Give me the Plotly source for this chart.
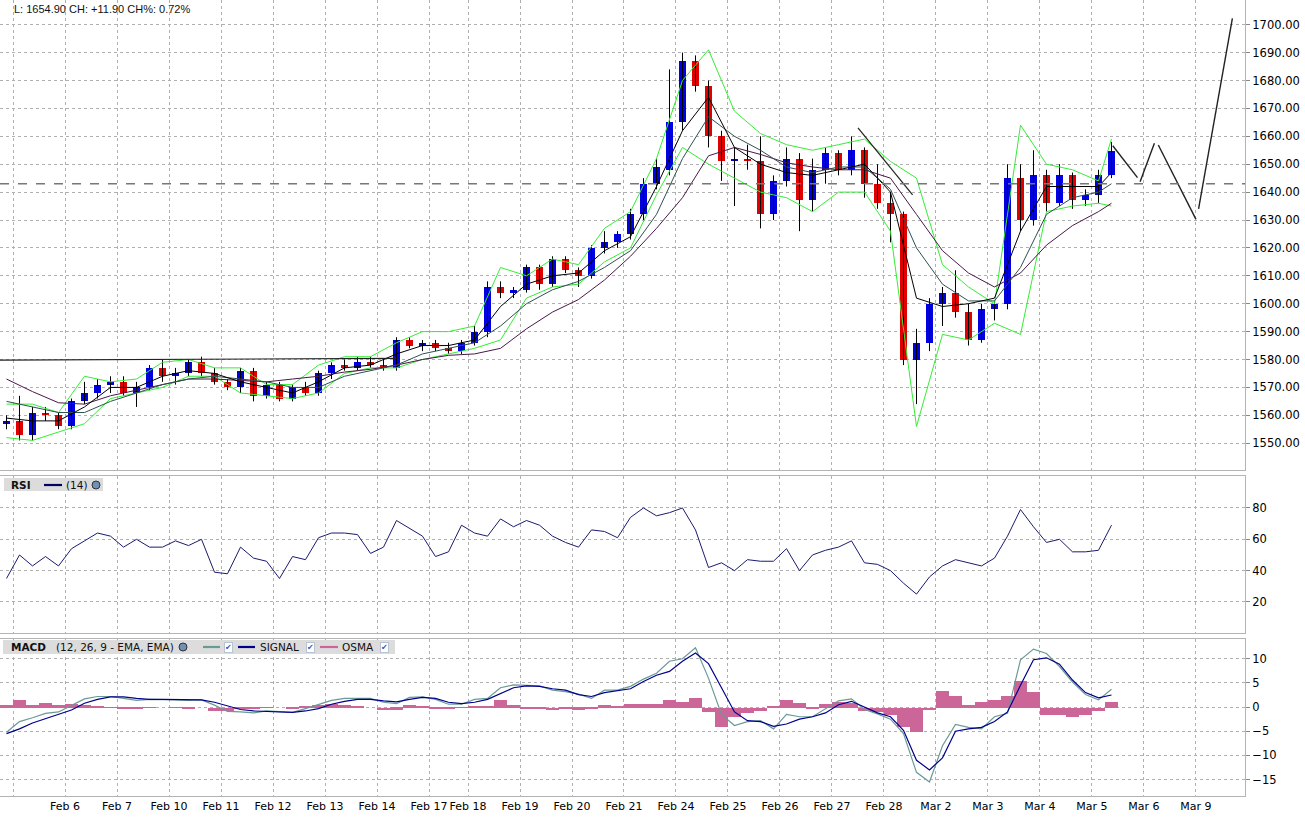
import plotly.graph_objects as go

# sessions on the time axis (bars per session on the chart, Feb 17 is a short one)
sessions = ["Feb 5", "Feb 6", "Feb 7", "Feb 10", "Feb 11", "Feb 12", "Feb 13", "Feb 14",
            "Feb 17", "Feb 18", "Feb 19", "Feb 20", "Feb 21", "Feb 24", "Feb 25", "Feb 26",
            "Feb 27", "Feb 28", "Mar 2", "Mar 3", "Mar 4", "Mar 5", "Mar 6", "Mar 9"]
session_bars = [4, 4, 4, 4, 4, 4, 4, 4, 3, 4, 4, 4, 4, 4, 4, 4, 4, 4, 4, 4, 4, 4, 4, 4]
lead_bars = 1  # tail of Feb 4 at the left edge

# price bars
opens = [1557,
         1558, 1553, 1561, 1560, 1556, 1565, 1568, 1571, 1572, 1568, 1570, 1577,
         1574, 1575, 1579, 1575, 1572, 1570, 1576, 1567, 1571, 1566, 1570, 1568,
         1575, 1578, 1577, 1579, 1578, 1577, 1587, 1585, 1586, 1584, 1583,
         1586, 1590, 1606, 1604, 1605, 1613, 1607, 1616, 1612, 1610, 1620, 1622,
         1625, 1632, 1643, 1648, 1665, 1687, 1678, 1660, 1651, 1652, 1651, 1632,
         1644, 1652, 1637, 1648, 1654, 1648, 1655, 1643, 1636, 1632, 1580, 1586,
         1600, 1604, 1597, 1587, 1598, 1600, 1645, 1630, 1646, 1636, 1646, 1637,
         1639, 1646]
highs = [1560,
         1567, 1563, 1563, 1561, 1566, 1572, 1573, 1574, 1574, 1572, 1578, 1580,
         1577, 1580, 1581, 1577, 1573, 1577, 1577, 1572, 1572, 1571, 1572, 1576,
         1579, 1580, 1581, 1581, 1580, 1588, 1588, 1587, 1587, 1586, 1587,
         1592, 1608, 1608, 1606, 1614, 1614, 1617, 1617, 1613, 1621, 1626, 1626,
         1634, 1645, 1652, 1684, 1690, 1689, 1680, 1662, 1656, 1657, 1660, 1646,
         1656, 1654, 1652, 1656, 1655, 1660, 1656, 1650, 1640, 1633, 1591, 1602,
         1606, 1612, 1600, 1600, 1601, 1650, 1650, 1655, 1648, 1650, 1647, 1641,
         1648, 1658]
lows = [1555,
        1551, 1551, 1558, 1555, 1555, 1564, 1566, 1568, 1567, 1563, 1569, 1572,
        1571, 1574, 1574, 1571, 1569, 1568, 1565, 1566, 1565, 1565, 1567, 1567,
        1573, 1576, 1576, 1577, 1576, 1576, 1584, 1583, 1583, 1582, 1582,
        1585, 1588, 1602, 1602, 1604, 1605, 1606, 1611, 1606, 1609, 1618, 1620,
        1623, 1630, 1641, 1646, 1662, 1676, 1656, 1644, 1635, 1648, 1627, 1630,
        1642, 1626, 1633, 1643, 1646, 1646, 1638, 1634, 1622, 1578, 1564, 1583,
        1592, 1595, 1585, 1586, 1594, 1598, 1626, 1628, 1633, 1635, 1634, 1635,
        1636, 1645]
closes = [1558,
          1553, 1561, 1560, 1556, 1565, 1568, 1571, 1572, 1568, 1570, 1577, 1574,
          1575, 1579, 1575, 1572, 1570, 1576, 1567, 1571, 1566, 1570, 1568, 1575,
          1578, 1577, 1579, 1578, 1577, 1587, 1585, 1586, 1584, 1583, 1586,
          1590, 1606, 1604, 1605, 1613, 1607, 1616, 1612, 1610, 1620, 1622, 1625,
          1632, 1643, 1649, 1665, 1687, 1678, 1660, 1651, 1652, 1651, 1632, 1644,
          1652, 1637, 1648, 1654, 1648, 1655, 1643, 1636, 1632, 1580, 1586, 1600,
          1604, 1597, 1587, 1598, 1600, 1645, 1630, 1646, 1636, 1646, 1637, 1639,
          1646, 1654.9]

# overlays, read every second bar
ma_fast = [1559, 1558, 1558, 1563, 1570, 1570, 1574, 1576, 1575, 1572, 1570, 1568, 1572, 1577,
           1578, 1582, 1585, 1585, 1587, 1599, 1607, 1610, 1611, 1619, 1624, 1642, 1662, 1674,
           1656, 1650, 1647, 1646, 1648, 1650, 1640, 1602, 1599, 1600, 1602, 1626, 1642, 1642,
           1642, 1647]
ma_mid = [1565, 1563, 1561, 1561, 1565, 1568, 1571, 1573, 1574, 1573, 1572, 1570, 1570, 1574,
          1576, 1578, 1582, 1584, 1586, 1592, 1600, 1605, 1608, 1613, 1619, 1632, 1652, 1667,
          1660, 1655, 1649, 1647, 1649, 1649, 1641, 1620, 1607, 1601, 1601, 1613, 1632, 1638,
          1640, 1643]
ma_slow = [1573, 1568.5, 1564.5, 1564, 1567, 1569, 1571, 1573, 1573, 1572.5, 1572, 1573, 1574,
           1575.5, 1576.5, 1578, 1580, 1581.5, 1582, 1584, 1591, 1597, 1601.5, 1608.5, 1617,
           1627, 1638, 1653, 1656, 1653.5, 1650.5, 1649, 1648, 1648, 1645, 1632, 1619, 1611,
           1606, 1611, 1621, 1628, 1633, 1636]
band_upper = [1564, 1564, 1561, 1574, 1572, 1573, 1579, 1580, 1577, 1577, 1571, 1571, 1578, 1581,
              1581, 1586, 1590, 1590, 1592, 1613, 1610, 1616, 1614, 1627, 1633, 1652, 1680, 1691,
              1669, 1661, 1657, 1655, 1657, 1659, 1651, 1645, 1614, 1606, 1600, 1664, 1650, 1648,
              1644, 1659]
band_lower = [1552, 1551, 1554, 1557, 1566, 1568, 1570, 1574, 1574, 1568, 1567, 1566, 1568, 1575,
              1577, 1577, 1580, 1582, 1584, 1587, 1602, 1606, 1607, 1615, 1620, 1639, 1656, 1650,
              1645, 1640, 1638, 1633, 1640, 1640, 1626, 1556, 1589, 1587, 1593, 1589, 1633, 1635,
              1636, 1635]

# drawn lines
support_x = [-0.5, 30]
support_y = [1579.8, 1580.4]
trend_x = [65.5, 69.7]
trend_y = [1663, 1639]
zigzag_x = [85.1, 87.0, None, 87.2, 88.3, None, 88.6, 91.5, None, 91.7, 94.3]
zigzag_y = [1656.6, 1645.2, None, 1643.7, 1657.5, None, 1656.9, 1630.2, None, 1634.0, 1702.3]
prev_close = 1643.0
last_price = 1654.90
change = 11.90
change_pct = 0.72

# RSI (14)
rsi = [35, 50, 43, 49, 43, 54, 59, 64, 62, 55,
       60, 55, 55, 59, 56, 60, 39, 38, 55, 48,
       46, 35, 49, 47, 61, 64, 64, 63, 51, 55,
       72, 67, 62, 49, 52, 69, 64, 62, 73, 68,
       72, 69, 62, 58, 55, 66, 65, 61, 74, 80,
       75, 77, 80, 66, 42, 45, 40, 47, 46, 46,
       54, 40, 50, 53, 55, 59, 45, 44, 40, 32,
       25, 36, 43, 47, 45, 43, 48, 62, 79, 68,
       58, 60, 52, 52, 53, 69]

# MACD (12, 26, 9)
macd = [-5.2, -3.0, -2.2, -1.3, -1.0, 0.3, 1.7, 2.2, 2.2, 1.8,
        1.4, 1.6, 1.6, 1.5, 1.4, 1.5, 0.4, -0.9, -1.0, -1.2,
        -0.8, -0.9, -1.1, -0.3, 0.6, 1.4, 1.8, 1.8, 1.8, 1.0,
        0.7, 2.0, 2.1, 1.6, 0.6, 0.6, 1.6, 1.8, 4.0, 4.6,
        4.5, 4.4, 3.5, 3.2, 2.7, 1.8, 3.5, 3.5, 4.3, 5.8,
        7.0, 9.5, 10.0, 12.3, 6.0, -1.5, -3.8, -3.0, -2.8, -4.5,
        -1.5, -2.0, -2.0, -0.3, 1.3, 1.7, -0.5, -1.4, -2.5, -5.5,
        -13.5, -15.5, -8.0, -3.6, -4.2, -4.5, -2.0, -1.3, 9.8, 12.0,
        11.1, 8.4, 5.2, 2.6, 1.5, 3.7]
signal = [-5.5, -4.5, -3.3, -2.4, -1.4, -0.6, 0.8, 1.6, 2.1, 2.1,
          1.8, 1.6, 1.6, 1.6, 1.6, 1.5, 1.0, 0.2, -0.5, -0.8,
          -0.9, -1.0, -1.1, -0.8, -0.3, 0.6, 1.2, 1.6, 1.6, 1.3,
          1.1, 1.6, 2.0, 1.8, 1.0, 0.7, 1.0, 1.6, 2.8, 4.0,
          4.4, 4.3, 3.8, 3.5, 2.6, 2.2, 3.0, 3.4, 3.8, 5.3,
          6.6, 7.4, 9.5, 11.2, 9.0, 4.0, -1.0, -2.8, -3.0, -4.0,
          -3.5, -2.5, -2.0, -1.2, 0.5, 1.2, 0.0, -1.2, -2.0, -4.8,
          -11.0, -13.0, -10.5, -5.0, -4.5, -4.2, -3.0, -1.0, 4.5, 9.8,
          10.2, 8.9, 5.6, 3.0, 1.9, 2.5]
osma = [0.6, 1.5, 0.6, 0.9, 0.5, 0.8, 0.5, 0.2, 0.1, -0.3,
        -0.2, 0.1, 0.0, 0.1, -0.1, 0.0, -0.6, -0.8, -0.3, -0.2,
        0.1, 0.0, -0.1, 0.4, 0.5, 0.8, 0.6, 0.2, 0.0, -0.5,
        -0.4, 0.6, 0.3, -0.2, -0.3, 0.1, 0.4, 0.4, 1.5, 0.5,
        -0.2, -0.2, -0.5, -0.3, -0.4, -0.2, 0.5, 0.3, 0.8, 0.8,
        0.8, 1.5, 1.2, 2.0, -1.0, -4.0, -2.0, -1.2, -0.8, 0.3,
        1.5, 1.0, -0.3, 0.8, 1.2, 1.0, -0.8, -1.0, -1.5, -4.0,
        -5.0, -0.5, 3.5, 2.5, 0.5, 1.2, 1.5, 2.5, 5.5, 3.2,
        -1.5, -1.6, -1.9, -1.6, -0.6, 1.2]

# x positions: one unit per bar, overlays on every second bar
bar_x = list(range(len(closes)))
line_x = bar_x[::2] + [bar_x[-1]]

tick_pos = []
start = lead_bars
for n in session_bars:
    tick_pos.append(start - 0.5)
    start += n
tick_text = [""] + sessions[1:]

W, H = 1305, 821
PLOT_W, PLOT_H = 1245, 796


def py(y_px):
    # pixel row -> paper fraction
    return (PLOT_H - y_px) / PLOT_H


def px(x_px):
    return x_px / PLOT_W


fig = go.Figure()

# candles: wicks then bodies
wick_x, wick_y = [], []
for i in bar_x:
    wick_x += [i, i, None]
    wick_y += [lows[i], highs[i], None]
fig.add_trace(go.Scatter(x=wick_x, y=wick_y, mode="lines",
                         line=dict(color="black", width=1), hoverinfo="skip"))

for up, color in [(True, "#0000e0"), (False, "#e00000")]:
    idx = [i for i in bar_x if (closes[i] >= opens[i]) == up]
    fig.add_trace(go.Bar(
        x=idx,
        y=[max(abs(closes[i] - opens[i]), 0.4) for i in idx],
        base=[min(opens[i], closes[i]) for i in idx],
        width=0.58, marker=dict(color=color, line=dict(width=0)),
    ))

# bands and moving averages
for series, color in [(band_upper, "#33ee33"), (band_lower, "#33ee33"),
                      (ma_slow, "#4a1848"), (ma_mid, "#2f5050"), (ma_fast, "#000000")]:
    fig.add_trace(go.Scatter(x=line_x, y=series, mode="lines",
                             line=dict(color=color, width=1)))

# drawn lines
fig.add_trace(go.Scatter(x=support_x, y=support_y, mode="lines",
                         line=dict(color="#222222", width=1.2)))
fig.add_trace(go.Scatter(x=trend_x, y=trend_y, mode="lines",
                         line=dict(color="#222222", width=1.2)))
fig.add_trace(go.Scatter(x=zigzag_x, y=zigzag_y, mode="lines",
                         line=dict(color="#222222", width=1.4)))

# RSI
fig.add_trace(go.Scatter(x=bar_x, y=rsi, mode="lines", xaxis="x2", yaxis="y2",
                         line=dict(color="#1a1a70", width=1)))

# MACD
fig.add_trace(go.Bar(x=bar_x, y=osma, width=1.0, xaxis="x3", yaxis="y3",
                     marker=dict(color="#cc6699", line=dict(width=0))))
fig.add_trace(go.Scatter(x=bar_x, y=macd, mode="lines", xaxis="x3", yaxis="y3",
                         line=dict(color="#6a9a96", width=1.2)))
fig.add_trace(go.Scatter(x=bar_x, y=signal, mode="lines", xaxis="x3", yaxis="y3",
                         line=dict(color="#00008b", width=1.2)))

grid = dict(showgrid=True, gridcolor="#b0b0b0", griddash="dot", gridwidth=1,
            showline=True, mirror=True, linecolor="#b4b4b4", linewidth=1, zeroline=False)
x_common = dict(range=[-0.5, 95.27], tickvals=tick_pos, ticktext=tick_text,
                tickangle=0, ticks="", tickfont=dict(size=11), **grid)
y_common = dict(side="right", ticks="outside", ticklen=4, tickcolor="#888888", **grid)

fig.update_layout(
    width=W, height=H,
    margin=dict(l=0, r=W - PLOT_W, t=0, b=H - PLOT_H),
    paper_bgcolor="white", plot_bgcolor="white",
    font=dict(family="DejaVu Sans", size=11.5, color="black"),
    showlegend=False, barmode="overlay", bargap=0,
    xaxis=dict(domain=[0, 1], anchor="y", showticklabels=False, **x_common),
    xaxis2=dict(domain=[0, 1], anchor="y2", matches="x", showticklabels=False, **x_common),
    xaxis3=dict(domain=[0, 1], anchor="y3", matches="x", showticklabels=True, **x_common),
    yaxis=dict(domain=[py(470), py(0)], range=[1540.4, 1708.85],
               tickvals=list(range(1550, 1701, 10)), tickformat=".2f", **y_common),
    yaxis2=dict(domain=[py(633), py(476)], range=[0.2, 100.4],
                tickvals=[20, 40, 60, 80], **y_common),
    yaxis3=dict(domain=[py(796), py(638.5)], range=[-18.4, 14.2],
                tickvals=[-15, -10, -5, 0, 5, 10], **y_common),
)

# previous close reference
fig.add_shape(type="line", xref="x domain", yref="y", x0=0, x1=1, y0=prev_close, y1=prev_close,
              line=dict(color="#777777", width=1.3, dash="dash"))

# header text of the price panel
fig.add_annotation(xref="paper", yref="paper", x=px(12), y=py(9), xanchor="left", yanchor="middle",
                   text=f"L: {last_price:.2f} CH: {change:+.2f} CH%: {change_pct:.2f}%",
                   showarrow=False, font=dict(family="Liberation Sans", size=11, color="#111111"))


def header_box(x0, x1, y0, y1):
    fig.add_shape(type="rect", xref="paper", yref="paper", x0=px(x0), x1=px(x1),
                  y0=py(y1), y1=py(y0), fillcolor="#dcdcdc", line=dict(width=0), layer="above")


def label(x, y, text, bold=False, size=10.5):
    fig.add_annotation(xref="paper", yref="paper", x=px(x), y=py(y), xanchor="left",
                       yanchor="middle", showarrow=False,
                       text=f"<b>{text}</b>" if bold else text,
                       font=dict(family="DejaVu Sans", size=size, color="#111111"))


def legend_line(x0, x1, y, color):
    fig.add_shape(type="line", xref="paper", yref="paper", x0=px(x0), x1=px(x1),
                  y0=py(y), y1=py(y), line=dict(color=color, width=2.2), layer="above")


def globe(x, y):
    fig.add_shape(type="circle", xref="paper", yref="paper", x0=px(x - 4), x1=px(x + 4),
                  y0=py(y + 4), y1=py(y - 4), fillcolor="#7090b8",
                  line=dict(color="#333333", width=1), layer="above")


def checkbox(x, y):
    fig.add_annotation(xref="paper", yref="paper", x=px(x), y=py(y), xanchor="center",
                       yanchor="middle", showarrow=False, text="✔",
                       font=dict(family="DejaVu Sans", size=8, color="#1a5fd0"),
                       bgcolor="white", bordercolor="#b8c4d0", borderwidth=1, borderpad=0)


# RSI header
header_box(4, 103, 478, 491)
label(9, 485, "RSI", bold=True)
legend_line(44, 62, 485, "#000066")
label(64, 485, "(14)")
globe(96, 485)

# MACD header
header_box(3, 395, 640, 654)
label(9, 647, "MACD", bold=True)
label(54, 647, "(12, 26, 9 - EMA, EMA)")
globe(183, 647)
legend_line(203, 220, 647, "#6a9a96")
checkbox(228, 647)
legend_line(238, 255, 647, "#00008b")
label(258, 647, "SIGNAL")
checkbox(310, 647)
legend_line(320, 338, 647, "#cc6699")
label(340, 647, "OSMA")
checkbox(384, 647)

fig.write_html("out.html", config={"displayModeBar": False},
               post_script="document.body.style.margin='0';")
